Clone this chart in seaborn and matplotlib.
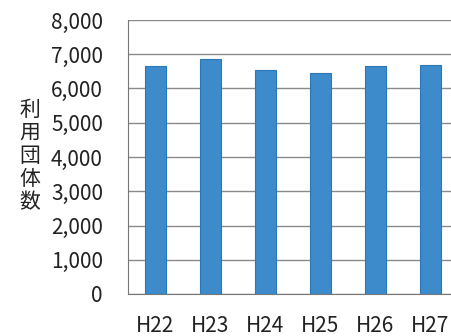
import numpy as np
import pandas as pd
import seaborn as sns
from matplotlib import pyplot as plt

years = ['H22', 'H23', 'H24', 'H25', 'H26', 'H27']
groups = [6650, 6860, 6540, 6440, 6660, 6700]
yticks = [0, 1000, 2000, 3000, 4000, 5000, 6000, 7000, 8000]

sns.set_style('white')
plt.rcParams['font.family'] = ['Noto Sans CJK JP', 'DejaVu Sans']

df = pd.DataFrame({'year': years, 'count': groups})

fig = plt.figure(figsize=(4.52, 3.36), dpi=100)
# plot area runs past the right edge like the cropped original
ax = fig.add_axes([128 / 452, 42 / 336, 330 / 452, 274 / 336])
sns.barplot(data=df, x='year', y='count', color='#3d8bcb', width=0.39,
            edgecolor='#2a78b8', linewidth=0.8, saturation=1, ax=ax, zorder=3)

ax.set_ylim(0, 8000)
ax.set_xlim(-0.5, 5.5)
ax.set_yticks(yticks)
ax.set_yticklabels([f'{v:,}' for v in yticks], fontsize=15, color='#222222')
ax.set_xticks(np.arange(-0.5, 6, 1), minor=True)
ax.tick_params(axis='x', which='major', length=0, pad=15, labelsize=15, labelcolor='#222222')
ax.tick_params(axis='x', which='minor', length=4, direction='out', color='#666666')
ax.tick_params(axis='y', length=6, direction='out', color='#888888', pad=12)
ax.yaxis.grid(True, color='#8a8a8a', linewidth=1)
ax.set_axisbelow(True)
for s in ['top', 'right']:
    ax.spines[s].set_visible(False)
ax.spines['left'].set_color('#777777')
ax.spines['bottom'].set_color('#777777')
ax.set_xlabel('')
ax.set_ylabel('')

fig.text(30 / 452, 1 - 156 / 336, '利\n用\n団\n体\n数', ha='center', va='center',
         fontsize=15, linespacing=1.05, color='#222222')

fig.savefig('out.png', dpi=100)
